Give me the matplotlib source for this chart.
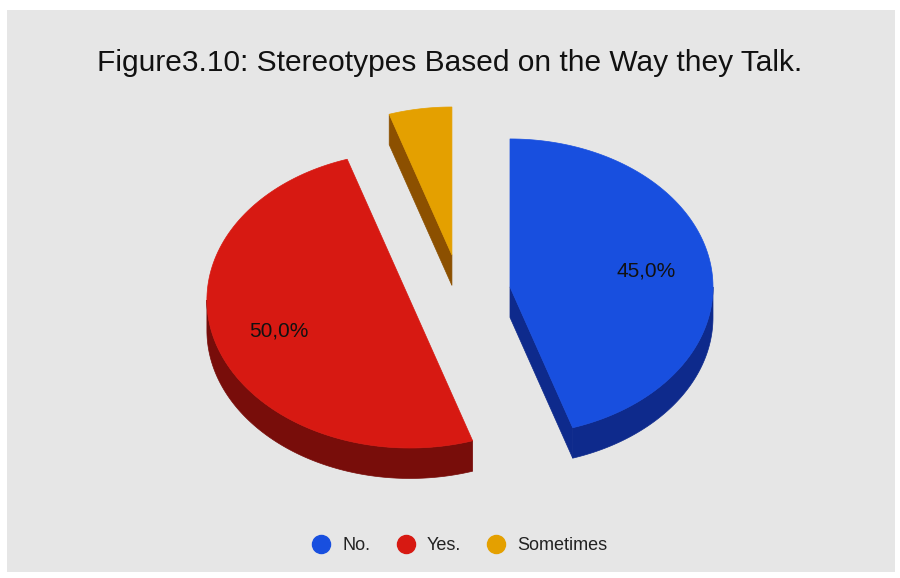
import numpy as np
import matplotlib.pyplot as plt
from matplotlib.patches import Polygon, Rectangle
from matplotlib.lines import Line2D

plt.rcParams['font.family'] = ['Liberation Sans', 'DejaVu Sans']

title = 'Figure3.10: Stereotypes Based on the Way they Talk.'
labels = ['No.', 'Yes.', 'Sometimes']
values = [45, 50, 5]

top_colors = ['#184fdf', '#d71912', '#e4a000']
side_colors = ['#0e2a8c', '#780d0a', '#8c5000']
# how far each slice is pulled out of the pie, in radius units on the flat disc
shifts = [(0.197, -0.013), (-0.296, -0.10), (-0.089, 0.20)]

tilt = 148 / 203     # vertical squash of the disc
depth = 0.150        # thickness of the pie
label_r = 0.68


def rim(cx, cy, t0, t1, n=120):
    # angles in degrees, clockwise from 12 o'clock
    t = np.radians(np.linspace(t0, t1, n))
    return np.column_stack([cx + np.sin(t), cy + tilt * np.cos(t)])


def pt(cx, cy, t, r=1.0):
    t = np.radians(t)
    return np.array([cx + r * np.sin(t), cy + tilt * r * np.cos(t)])


fig = plt.figure(figsize=(9, 5.78), dpi=100, facecolor='white')
fig.add_artist(Rectangle((7 / 900, 1 - 572 / 578), 888 / 900, 562 / 578,
                         transform=fig.transFigure, facecolor='#e6e6e6',
                         edgecolor='none', zorder=0))

ax = fig.add_axes([0, 0, 1, 1])
ax.set_facecolor('none')
ax.set_xlim(-470 / 203, 430 / 203)
ax.set_ylim(-293 / 203, 285 / 203)
ax.axis('off')

total = sum(values)
start = 0.0
down = np.array([0, depth])
for val, top_c, side_c, (sx, sy) in zip(values, top_colors, side_colors, shifts):
    end = start + 360.0 * val / total
    cx, cy = sx, sy * 150 / 203
    c = np.array([cx, cy])

    # outer wall, only the part facing the viewer
    w0, w1 = max(start, 90), min(end, 270)
    if w1 > w0:
        a = rim(cx, cy, w0, w1)
        ax.add_patch(Polygon(np.vstack([a, (a - down)[::-1]]), closed=True,
                             facecolor=side_c, edgecolor=side_c, lw=0.5, zorder=1))

    # cut faces
    for edge, normal in ((start, start - 90), (end, end + 90)):
        if np.cos(np.radians(normal)) < -1e-6:
            p = pt(cx, cy, edge)
            ax.add_patch(Polygon([c, p, p - down, c - down], closed=True,
                                 facecolor=side_c, edgecolor=side_c, lw=0.5, zorder=1))

    # top face
    a = rim(cx, cy, start, end)
    ax.add_patch(Polygon(np.vstack([c, a]), closed=True,
                         facecolor=top_c, edgecolor=top_c, lw=0.5, zorder=2))

    pct = val / total * 100
    if pct >= 10:
        lp = pt(cx, cy, (start + end) / 2, label_r)
        ax.text(lp[0], lp[1], f'{pct:.1f}%'.replace('.', ','), ha='center',
                va='center', fontsize=15, color='#111111', zorder=3)
    start = end

fig.text(0.5, 1 - 63 / 578, title, ha='center', va='center', fontsize=21.5,
         color='#111111')

handles = [Line2D([], [], marker='o', ls='', markersize=13, color=c)
           for c in top_colors]
fig.legend(handles, labels, loc='center', bbox_to_anchor=(460 / 900, 1 - 546 / 578),
           ncol=3, frameon=False, fontsize=13, handletextpad=0.67,
           columnspacing=1.45, handlelength=1.0, labelcolor='#222222')

fig.savefig('out.png', dpi=100, facecolor='white')
